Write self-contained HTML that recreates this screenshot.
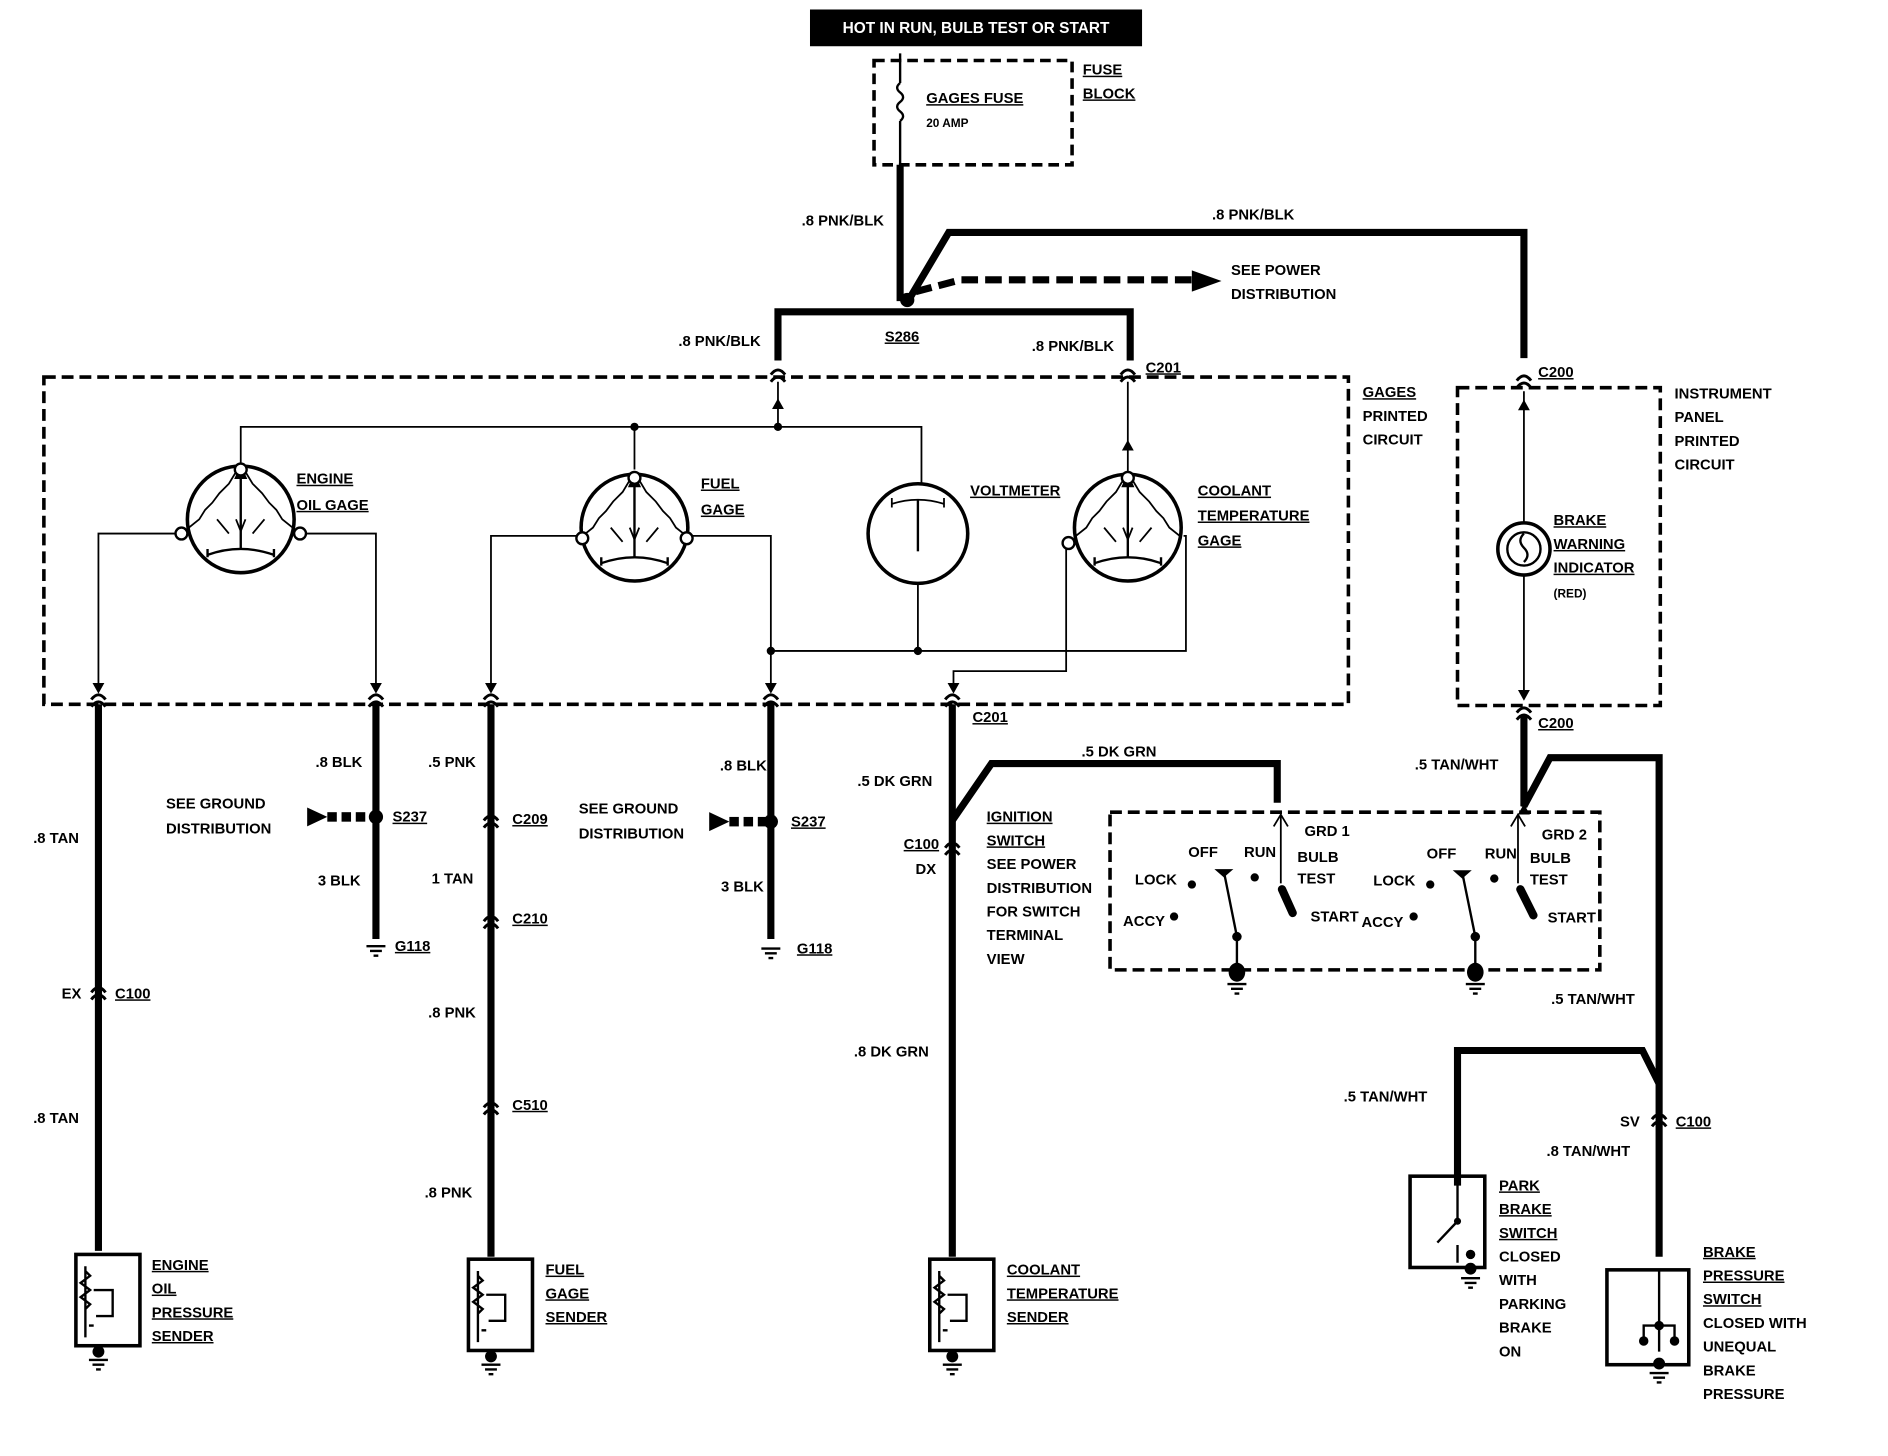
<!DOCTYPE html>
<html><head><meta charset="utf-8"><style>
html,body{margin:0;padding:0;background:#fff;}
svg{display:block}
text{font-family:"Liberation Sans",sans-serif;font-weight:bold;font-size:12.5px;fill:#000}
.u{text-decoration:underline}
</style></head><body>
<svg width="1888" height="1456" viewBox="0 0 1592 1228" preserveAspectRatio="none" xmlns="http://www.w3.org/2000/svg">
<defs>
<g id="gage">
 <circle cx="0" cy="0" r="45" fill="#fff" stroke="#000" stroke-width="3"/>
 <path d="M-45,8 L-35,0 -30,-8 -24,-14 -18,-22 -10,-30 -4,-40 0,-44 4,-40 10,-30 18,-22 24,-14 30,-8 35,0 45,8" fill="none" stroke="#000" stroke-width="1.5"/>
 <path d="M0,-44 L0,25 M-4,-35 L0,-44 4,-35 Z" stroke="#000" stroke-width="2" fill="#000"/>
 <path d="M-20,0 L-10,12 M20,0 L10,12 M-4,0 0,10 4,0" stroke="#000" fill="none" stroke-width="1.5"/>
 <path d="M-28,30 Q0,20 28,30 M-28,25 L-28,32 M28,25 L28,32" stroke="#000" fill="none" stroke-width="2"/>
</g>
<g id="gnd"><path d="M-8,0 H8 M-5,4 H5 M-2,8 H2" stroke="#000" stroke-width="2"/></g>
<g id="conn"><path d="M-6,4 Q0,-4 6,4 M-6,10 Q0,2 6,10" stroke="#000" stroke-width="2.5" fill="none"/></g>
<g id="sender">
 <rect x="-27" y="0" width="54" height="77" fill="none" stroke="#000" stroke-width="3"/>
 <path d="M-19,10 V70 M-19,14 L-15,18 -23,24 -15,30 -23,36 -15,42 -19,46 M-12,30 H4 V52 H-10 M-16,60 H-12" stroke="#000" fill="none" stroke-width="2"/>
</g>
</defs>

<rect x="683" y="8" width="280" height="31" fill="#000"/>
<text x="823" y="28" text-anchor="middle" style="fill:#fff;font-size:13px">HOT IN RUN,  BULB TEST OR START</text>

<rect x="737" y="51" width="167" height="88" fill="none" stroke="#000" stroke-width="3" stroke-dasharray="9,5"/>
<path d="M759,45 V70 M759,70 q-5,4 0,8 q5,4 0,8 q-5,4 0,8 q5,4 0,8 M759,102 V140" stroke="#000" stroke-width="2" fill="none"/>
<text x="781" y="87" class="u">GAGES FUSE</text>
<text x="781" y="107" style="font-size:10px">20 AMP</text>
<text x="913" y="63" class="u">FUSE</text>
<text x="913" y="83" class="u">BLOCK</text>

<path d="M759,139 V254" stroke="#000" stroke-width="6" fill="none"/>
<text x="676" y="190">.8 PNK/BLK</text>
<circle cx="765" cy="253" r="6"/>
<path d="M768,250 L800,196 H1285 V302" stroke="#000" stroke-width="6" fill="none"/>
<text x="1022" y="185">.8 PNK/BLK</text>
<path d="M772,246 L810,236 H1005" stroke="#000" stroke-width="6" stroke-dasharray="14,6" fill="none"/>
<path d="M1005,228 L1030,237 1005,246 Z"/>
<text x="1038" y="232">SEE POWER</text>
<text x="1038" y="252">DISTRIBUTION</text>

<path d="M656,304 V263 H953 V304" stroke="#000" stroke-width="6" fill="none"/>
<text x="746" y="288" class="u">S286</text>
<text x="572" y="292">.8 PNK/BLK</text>
<text x="870" y="296">.8 PNK/BLK</text>
<text x="966" y="314" class="u">C201</text>
<use href="#conn" x="656" y="312"/>
<use href="#conn" x="951" y="312"/>

<rect x="37" y="318" width="1100" height="276" fill="none" stroke="#000" stroke-width="3" stroke-dasharray="10,5"/>
<text x="1149" y="335" class="u">GAGES</text>
<text x="1149" y="355">PRINTED</text>
<text x="1149" y="375">CIRCUIT</text>

<g stroke="#000" stroke-width="1.5" fill="none">
 <path d="M656,322 V360 M203,392 V360 H777 V410"/>
 <path d="M951,322 V398"/>
 <path d="M535,360 V396"/>
 <path d="M150,450 H83 V582 M256,450 H317 V582"/>
 <path d="M490,452 H414 V582 M580,452 H650 V582"/>
 <path d="M774,493 V549 H650"/>
 <path d="M998,452 H1000 V549 H774 M899,459 V566 H804 V582"/>
</g>
<circle cx="535" cy="360" r="3.5"/><circle cx="656" cy="360" r="3.5"/>
<circle cx="650" cy="549" r="3.5"/><circle cx="774" cy="549" r="3.5"/>
<g fill="#000">
 <path d="M78,576 L83,585 88,576 Z M312,576 L317,585 322,576 Z M409,576 L414,585 419,576 Z M645,576 L650,585 655,576 Z M799,576 L804,585 809,576 Z"/>
</g>
<path d="M651,345 L656,336 661,345 Z M946,380 L951,371 956,380 Z"/>

<use href="#gage" x="203" y="438"/>
<circle cx="203" cy="396" r="5" fill="#fff" stroke="#000" stroke-width="2"/>
<circle cx="153" cy="450" r="5" fill="#fff" stroke="#000" stroke-width="2"/>
<circle cx="253" cy="450" r="5" fill="#fff" stroke="#000" stroke-width="2"/>
<text x="250" y="408" class="u">ENGINE</text>
<text x="250" y="430" class="u">OIL GAGE</text>

<use href="#gage" x="535" y="445"/>
<circle cx="535" cy="403" r="5" fill="#fff" stroke="#000" stroke-width="2"/>
<circle cx="491" cy="454" r="5" fill="#fff" stroke="#000" stroke-width="2"/>
<circle cx="579" cy="454" r="5" fill="#fff" stroke="#000" stroke-width="2"/>
<text x="591" y="412" class="u">FUEL</text>
<text x="591" y="434" class="u">GAGE</text>

<circle cx="774" cy="450" r="42" fill="#fff" stroke="#000" stroke-width="3"/>
<path d="M752,425 Q774,418 796,425 M752,420 V428 M796,420 V428" stroke="#000" stroke-width="1.5" fill="none"/>
<path d="M774,422 V465" stroke="#000" stroke-width="2"/>
<text x="818" y="418" class="u">VOLTMETER</text>

<use href="#gage" x="951" y="445"/>
<circle cx="951" cy="403" r="5" fill="#fff" stroke="#000" stroke-width="2"/>
<circle cx="901" cy="458" r="5" fill="#fff" stroke="#000" stroke-width="2"/>
<text x="1010" y="418" class="u">COOLANT</text>
<text x="1010" y="439" class="u">TEMPERATURE</text>
<text x="1010" y="460" class="u">GAGE</text>

<g stroke="#000" stroke-width="6" fill="none">
 <path d="M83,594 V1055"/>
 <path d="M317,594 V792"/>
 <path d="M414,594 V1060"/>
 <path d="M650,594 V792"/>
 <path d="M803,594 V1060"/>
 <path d="M803,692 L836,644 H1077 V677"/>
</g>
<g>
 <use href="#conn" x="83" y="586"/><use href="#conn" x="317" y="586"/><use href="#conn" x="414" y="586"/><use href="#conn" x="650" y="586"/><use href="#conn" x="803" y="586"/>
 <use href="#conn" x="83" y="833"/><use href="#conn" x="414" y="688"/><use href="#conn" x="414" y="773"/><use href="#conn" x="414" y="930"/><use href="#conn" x="803" y="711"/>
</g>
<text x="28" y="711">.8 TAN</text>
<text x="28" y="947">.8 TAN</text>
<text x="52" y="842">EX</text><text x="97" y="842" class="u">C100</text>

<text x="266" y="647">.8 BLK</text>
<text x="268" y="747">3 BLK</text>
<circle cx="317" cy="689" r="6"/>
<text x="331" y="693" class="u">S237</text>
<path d="M259,681 L276,689 259,697 Z"/><rect x="276" y="685" width="8" height="8"/><rect x="288" y="685" width="8" height="8"/><rect x="300" y="685" width="8" height="8"/>
<text x="140" y="682">SEE GROUND</text>
<text x="140" y="703">DISTRIBUTION</text>
<use href="#gnd" x="317" y="798"/><text x="333" y="802" class="u">G118</text>

<text x="361" y="647">.5 PNK</text>
<text x="364" y="745">1 TAN</text>
<text x="361" y="858">.8 PNK</text>
<text x="358" y="1010">.8 PNK</text>
<text x="432" y="695" class="u">C209</text>
<text x="432" y="779" class="u">C210</text>
<text x="432" y="936" class="u">C510</text>

<text x="607" y="650">.8 BLK</text>
<text x="608" y="752">3 BLK</text>
<circle cx="650" cy="693" r="6"/>
<text x="667" y="697" class="u">S237</text>
<path d="M598,685 L615,693 598,701 Z"/><rect x="615" y="689" width="8" height="8"/><rect x="627" y="689" width="8" height="8"/><rect x="639" y="689" width="8" height="8"/>
<text x="488" y="686">SEE GROUND</text>
<text x="488" y="707">DISTRIBUTION</text>
<use href="#gnd" x="650" y="800"/><text x="672" y="804" class="u">G118</text>

<text x="820" y="609" class="u">C201</text>
<text x="723" y="663">.5 DK GRN</text>
<text x="912" y="638">.5 DK GRN</text>
<text x="762" y="716" class="u">C100</text>
<text x="772" y="737">DX</text>
<text x="720" y="891">.8 DK GRN</text>

<text x="832" y="693" class="u">IGNITION</text>
<text x="832" y="713" class="u">SWITCH</text>
<text x="832" y="733">SEE POWER</text>
<text x="832" y="753">DISTRIBUTION</text>
<text x="832" y="773">FOR SWITCH</text>
<text x="832" y="793">TERMINAL</text>
<text x="832" y="813">VIEW</text>

<rect x="936" y="685" width="413" height="133" fill="none" stroke="#000" stroke-width="3" stroke-dasharray="10,5"/>
<g style="font-size:11px">
 <text x="1100" y="705">GRD 1</text><text x="1002" y="723">OFF</text><text x="1049" y="723">RUN</text>
 <text x="1094" y="727">BULB</text><text x="1094" y="745">TEST</text><text x="957" y="746">LOCK</text>
 <text x="947" y="781">ACCY</text><text x="1105" y="777">START</text>
 <text x="1300" y="708">GRD 2</text><text x="1203" y="724">OFF</text><text x="1252" y="724">RUN</text>
 <text x="1290" y="728">BULB</text><text x="1290" y="746">TEST</text><text x="1158" y="747">LOCK</text>
 <text x="1148" y="782">ACCY</text><text x="1305" y="778">START</text>
</g>
<g stroke="#000" fill="none">
 <path d="M1080,687 V745" stroke-width="1.5"/><path d="M1074,697 L1080,687 1086,697" stroke-width="1.5"/>
 <path d="M1081,750 L1090,770" stroke-width="7" stroke-linecap="round"/>
 <path d="M1032,735 L1043,790 V815" stroke-width="2"/>
 <path d="M1280,687 V745" stroke-width="1.5"/><path d="M1274,697 L1280,687 1286,697" stroke-width="1.5"/>
 <path d="M1282,750 L1293,772" stroke-width="7" stroke-linecap="round"/>
 <path d="M1233,736 L1244,790 V815" stroke-width="2"/>
</g>
<g>
 <path d="M1024,733 L1040,733 1032,740Z"/><circle cx="1043" cy="790" r="4"/><ellipse cx="1043" cy="820" rx="7" ry="8"/>
 <circle cx="1005" cy="746" r="3.5"/><circle cx="990" cy="773" r="3.5"/><circle cx="1058" cy="740" r="3.5"/>
 <path d="M1225,734 L1241,734 1233,741Z"/><circle cx="1244" cy="790" r="4"/><ellipse cx="1244" cy="820" rx="7" ry="8"/>
 <circle cx="1206" cy="746" r="3.5"/><circle cx="1192" cy="773" r="3.5"/><circle cx="1260" cy="741" r="3.5"/>
</g>
<use href="#gnd" x="1043" y="830"/><use href="#gnd" x="1244" y="830"/>

<rect x="1229" y="327" width="171" height="268" fill="none" stroke="#000" stroke-width="3" stroke-dasharray="10,5"/>
<text x="1412" y="336">INSTRUMENT</text><text x="1412" y="356">PANEL</text><text x="1412" y="376">PRINTED</text><text x="1412" y="396">CIRCUIT</text>
<use href="#conn" x="1285" y="317"/>
<text x="1297" y="318" class="u">C200</text>
<path d="M1285,330 V587" stroke="#000" stroke-width="1.5"/>
<path d="M1280,346 L1285,337 1290,346Z M1280,582 L1285,591 1290,582Z"/>
<circle cx="1285" cy="463" r="22" fill="#fff" stroke="#000" stroke-width="3"/>
<circle cx="1285" cy="463" r="14" fill="none" stroke="#000" stroke-width="2"/>
<path d="M1285,450 q-6,6 0,12 q6,6 0,12" stroke="#000" fill="none" stroke-width="2"/>
<text x="1310" y="443" class="u">BRAKE</text><text x="1310" y="463" class="u">WARNING</text><text x="1310" y="483" class="u">INDICATOR</text>
<text x="1310" y="504" style="font-size:10px">(RED)</text>
<use href="#conn" x="1285" y="597"/>
<text x="1297" y="614" class="u">C200</text>

<g stroke="#000" stroke-width="6" fill="none">
 <path d="M1285,604 V680 L1307,639 H1399 V1060"/>
 <path d="M1229,1000 V886 H1385 L1399,914"/>
</g>
<use href="#conn" x="1399" y="940"/>
<path d="M1280,687 L1285,678 1290,687Z"/>
<text x="1193" y="649">.5 TAN/WHT</text>
<text x="1308" y="847">.5 TAN/WHT</text>
<text x="1366" y="950">SV</text><text x="1413" y="950" class="u">C100</text>
<text x="1304" y="975">.8 TAN/WHT</text>
<text x="1133" y="929">.5 TAN/WHT</text>

<rect x="1189" y="992" width="63" height="77" fill="none" stroke="#000" stroke-width="3"/>
<path d="M1229,992 V1030 L1212,1048 M1229,1050 V1065" stroke="#000" stroke-width="2" fill="none"/>
<circle cx="1229" cy="1030" r="3"/><circle cx="1240" cy="1058" r="4"/><circle cx="1240" cy="1070" r="5"/>
<use href="#gnd" x="1240" y="1078"/>
<g><text x="1264" y="1004" class="u">PARK</text><text x="1264" y="1024" class="u">BRAKE</text><text x="1264" y="1044" class="u">SWITCH</text><text x="1264" y="1064">CLOSED</text><text x="1264" y="1084">WITH</text><text x="1264" y="1104">PARKING</text><text x="1264" y="1124">BRAKE</text><text x="1264" y="1144">ON</text></g>

<rect x="1355" y="1071" width="69" height="80" fill="none" stroke="#000" stroke-width="3"/>
<path d="M1399,1071 V1140 M1386,1128 V1118 H1412 V1128" stroke="#000" stroke-width="2" fill="none"/>
<circle cx="1386" cy="1131" r="4"/><circle cx="1412" cy="1131" r="4"/><circle cx="1399" cy="1118" r="4"/><circle cx="1399" cy="1150" r="5"/>
<use href="#gnd" x="1399" y="1158"/>
<g><text x="1436" y="1060" class="u">BRAKE</text><text x="1436" y="1080" class="u">PRESSURE</text><text x="1436" y="1100" class="u">SWITCH</text><text x="1436" y="1120">CLOSED WITH</text><text x="1436" y="1140">UNEQUAL</text><text x="1436" y="1160">BRAKE</text><text x="1436" y="1180">PRESSURE</text></g>

<use href="#sender" x="91" y="1058"/><circle cx="83" cy="1140" r="5"/><use href="#gnd" x="83" y="1147"/>
<text x="128" y="1071" class="u">ENGINE</text><text x="128" y="1091" class="u">OIL</text><text x="128" y="1111" class="u">PRESSURE</text><text x="128" y="1131" class="u">SENDER</text>
<use href="#sender" x="422" y="1062"/><circle cx="414" cy="1144" r="5"/><use href="#gnd" x="414" y="1151"/>
<text x="460" y="1075" class="u">FUEL</text><text x="460" y="1095" class="u">GAGE</text><text x="460" y="1115" class="u">SENDER</text>
<use href="#sender" x="811" y="1062"/><circle cx="803" cy="1144" r="5"/><use href="#gnd" x="803" y="1151"/>
<text x="849" y="1075" class="u">COOLANT</text><text x="849" y="1095" class="u">TEMPERATURE</text><text x="849" y="1115" class="u">SENDER</text>
</svg>
</body></html>
